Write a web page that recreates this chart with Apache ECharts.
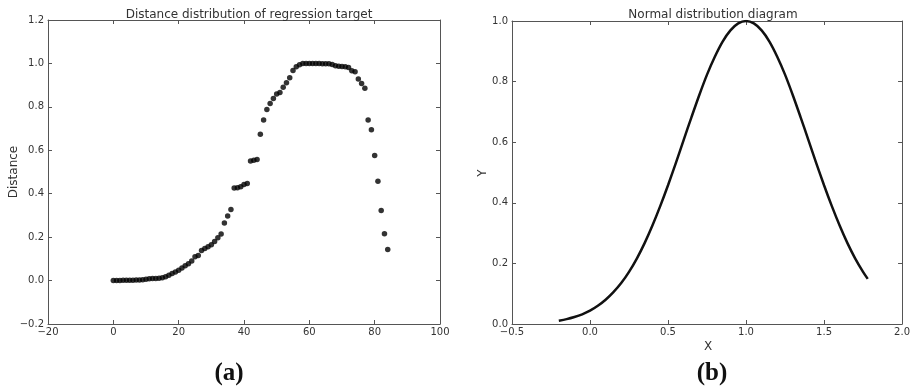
<!DOCTYPE html>
<html>
<head>
<meta charset="utf-8">
<script src="https://cdn.jsdelivr.net/npm/echarts@6/dist/echarts.min.js"></script>
<style>
html,body{margin:0;padding:0;background:#fff;}
#c{width:913px;height:388px;}
</style>
</head>
<body>
<div id="c"></div>
<script>
// ---- data ----
var sampleIndex = [0,1,2,3,4,5,6,7,8,9,10,11,12,13,14,15,16,17,18,19,20,21,22,23,24,25,26,27,28,29,30,31,32,33,34,35,36,37,38,39,40,41,42,43,44,45,46,47,48,49,50,51,52,53,54,55,56,57,58,59,60,61,62,63,64,65,66,67,68,69,70,71,72,73,74,75,76,77,78,79,80,81,82,83,84];
var distance = [0.000,0.000,0.000,0.001,0.001,0.002,0.002,0.003,0.003,0.004,0.006,0.008,0.009,0.010,0.011,0.013,0.018,0.025,0.033,0.040,0.048,0.058,0.068,0.078,0.090,0.110,0.115,0.138,0.148,0.156,0.165,0.180,0.197,0.215,0.265,0.297,0.327,0.426,0.428,0.432,0.443,0.447,0.551,0.554,0.557,0.674,0.739,0.788,0.816,0.838,0.859,0.866,0.890,0.911,0.934,0.967,0.985,0.994,1.000,1.000,1.000,1.000,1.000,1.000,0.999,0.999,0.998,0.995,0.989,0.987,0.986,0.985,0.981,0.966,0.962,0.928,0.908,0.886,0.739,0.694,0.576,0.457,0.323,0.216,0.143];
var normX = [-0.2,-0.15,-0.1,-0.05,0.0,0.05,0.1,0.15,0.2,0.25,0.3,0.35,0.4,0.45,0.5,0.55,0.6,0.65,0.7,0.75,0.8,0.85,0.9,0.95,1.0,1.05,1.1,1.15,1.2,1.25,1.3,1.35,1.4,1.45,1.5,1.55,1.6,1.65,1.7,1.75,1.78];
var normY = [0.011,0.016,0.023,0.032,0.044,0.060,0.080,0.105,0.135,0.172,0.216,0.267,0.325,0.389,0.458,0.531,0.607,0.682,0.755,0.823,0.882,0.932,0.969,0.992,1.000,0.992,0.969,0.932,0.882,0.823,0.755,0.682,0.607,0.531,0.458,0.389,0.325,0.267,0.216,0.172,0.149];
var titles = ['Distance distribution of regression target','Normal distribution diagram'];
var captions = ['(a)','(b)'];
var axisNames = ['Distance','Y','X'];

var font = 'DejaVu Sans';
var txt = '#333';
var axisCol = '#555';
function fmt(v){ var s=(+v).toFixed(1); return s.replace('-','\u2212'); }
function fmtInt(v){ return String(Math.round(v)).replace('-','\u2212'); }

function mkX(grid, min, max, interval, f){
  return [{
    gridIndex:grid, type:'value', min:min, max:max, interval:interval, position:'bottom',
    axisLine:{show:true,onZero:false,lineStyle:{color:axisCol,width:1}},
    axisTick:{show:true,inside:true,length:4,lineStyle:{color:axisCol}},
    axisLabel:{show:true,formatter:f,fontFamily:font,fontSize:10,color:txt,margin:3,showMinLabel:true,showMaxLabel:true},
    splitLine:{show:false}
  },{
    gridIndex:grid, type:'value', min:min, max:max, interval:interval, position:'top',
    axisLine:{show:true,onZero:false,lineStyle:{color:axisCol,width:1}},
    axisTick:{show:true,inside:true,length:4,lineStyle:{color:axisCol}},
    axisLabel:{show:false}, splitLine:{show:false}
  }];
}
function mkY(grid, min, max, interval){
  return [{
    gridIndex:grid, type:'value', min:min, max:max, interval:interval, position:'left',
    axisLine:{show:true,onZero:false,lineStyle:{color:axisCol,width:1}},
    axisTick:{show:true,inside:true,length:4,lineStyle:{color:axisCol}},
    axisLabel:{show:true,formatter:fmt,fontFamily:font,fontSize:10,color:txt,margin:4,showMinLabel:true,showMaxLabel:true},
    splitLine:{show:false}
  },{
    gridIndex:grid, type:'value', min:min, max:max, interval:interval, position:'right',
    axisLine:{show:true,onZero:false,lineStyle:{color:axisCol,width:1}},
    axisTick:{show:true,inside:true,length:4,lineStyle:{color:axisCol}},
    axisLabel:{show:false}, splitLine:{show:false}
  }];
}

var chart = echarts.init(document.getElementById('c'), null, {renderer:'canvas'});
var option = {
  backgroundColor:'#fff',
  animation:false,
  title:[
    {text:titles[0],left:244,top:4,textAlign:'center',textStyle:{fontFamily:font,fontSize:12,fontWeight:'normal',color:txt}},
    {text:titles[1],left:708,top:4,textAlign:'center',textStyle:{fontFamily:font,fontSize:12,fontWeight:'normal',color:txt}},
    {text:captions[0],left:224,top:356,textAlign:'center',textStyle:{fontFamily:'Liberation Serif',fontSize:25,fontWeight:'bold',color:'#111'}},
    {text:captions[1],left:707,top:356,textAlign:'center',textStyle:{fontFamily:'Liberation Serif',fontSize:25,fontWeight:'bold',color:'#111'}}
  ],
  graphic:[
    {type:'text',x:14,y:172,rotation:Math.PI/2,style:{text:axisNames[0],font:'12px "DejaVu Sans"',fill:txt,textAlign:'center',textVerticalAlign:'middle'}},
    {type:'text',x:483,y:173,rotation:Math.PI/2,style:{text:axisNames[1],font:'12px "DejaVu Sans"',fill:txt,textAlign:'center',textVerticalAlign:'middle'}},
    {type:'text',x:708,y:347,style:{text:axisNames[2],font:'12px "DejaVu Sans"',fill:txt,textAlign:'center',textVerticalAlign:'middle'}}
  ],
  grid:[
    {left:48,top:20,width:392,height:304},
    {left:512,top:21,width:392,height:303}
  ],
  xAxis:[].concat(mkX(0,-20,100,20,fmtInt), mkX(1,-0.5,2.0,0.5,fmt)),
  yAxis:[].concat(mkY(0,-0.2,1.2,0.2), mkY(1,0,1.0,0.2)),
  series:[
    {type:'scatter',xAxisIndex:0,yAxisIndex:0,symbol:'circle',symbolSize:5.5,
     itemStyle:{color:'#000'},
     data:sampleIndex.map(function(x,i){return [x,distance[i]];})},
    {type:'line',xAxisIndex:2,yAxisIndex:2,smooth:0.3,showSymbol:false,
     lineStyle:{color:'#111',width:2.5},
     data:normX.map(function(x,i){return [x,normY[i]];})}
  ]
};
chart.setOption(option);
</script>
</body>
</html>
